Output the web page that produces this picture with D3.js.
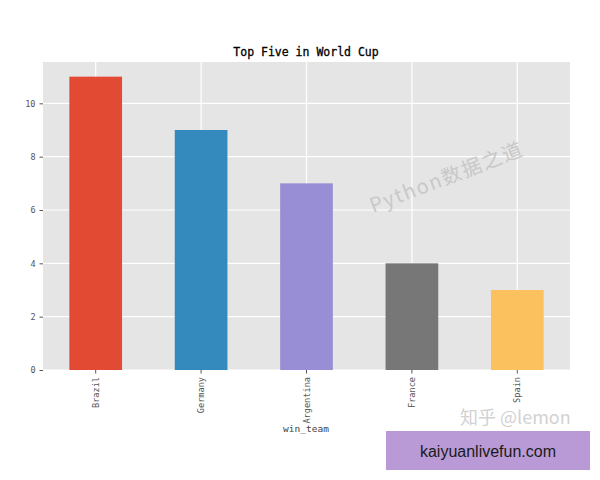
<!DOCTYPE html>
<html>
<head>
<meta charset="utf-8">
<script src="https://cdn.jsdelivr.net/npm/d3@7"></script>
<style>
  html, body { margin: 0; padding: 0; background: #fff; }
  svg { display: block; }
</style>
</head>
<body>
<svg id="chart" width="600" height="480"></svg>
<script>
const categories = ["Brazil", "Germany", "Argentina", "France", "Spain"];
const values = [11, 9, 7, 4, 3];
const colors = ["#E24A33", "#348ABD", "#988ED5", "#777777", "#FBC15E"];
const yTicks = [0, 2, 4, 6, 8, 10];
const title = "Top Five in World Cup";
const xLabel = "win_team";

(function () {
const svg = d3.select("#chart");
const pLeft = 43, pRight = 570, pTop = 62, pBottom = 370;
const mono = "'DejaVu Sans Mono', 'Liberation Mono', monospace";

const x = d3.scaleBand().domain(categories).range([pLeft, pRight]).paddingInner(0.5).paddingOuter(0.25);
const y = d3.scaleLinear().domain([0, 11.55]).range([pBottom, pTop]);

// background
svg.append("rect").attr("x", pLeft).attr("y", pTop).attr("width", pRight - pLeft).attr("height", pBottom - pTop).attr("fill", "#E5E5E5");

// grid
svg.append("g").selectAll("line").data(yTicks).join("line")
  .attr("x1", pLeft).attr("x2", pRight)
  .attr("y1", d => y(d)).attr("y2", d => y(d))
  .attr("stroke", "#fff").attr("stroke-width", 1.2);
svg.append("g").selectAll("line").data(categories).join("line")
  .attr("x1", d => x(d) + x.bandwidth() / 2).attr("x2", d => x(d) + x.bandwidth() / 2)
  .attr("y1", pTop).attr("y2", pBottom)
  .attr("stroke", "#fff").attr("stroke-width", 1.2);

// bars
svg.append("g").selectAll("rect").data(categories).join("rect")
  .attr("x", d => x(d)).attr("width", x.bandwidth())
  .attr("y", (d, i) => y(values[i])).attr("height", (d, i) => y(0) - y(values[i]))
  .attr("fill", (d, i) => colors[i]);

// watermark in plot
svg.append("text")
  .attr("transform", "translate(373,213) rotate(-21)")
  .attr("font-family", "'Noto Sans CJK SC', sans-serif")
  .attr("font-size", 20).attr("letter-spacing", 1.6)
  .attr("fill", "#c8c8c8")
  .text("Python数据之道");

// y axis
const yAxis = d3.axisLeft(y).tickValues(yTicks).tickSize(3.5).tickPadding(4).tickFormat(d3.format("d"));
const gy = svg.append("g").attr("transform", `translate(${pLeft},0)`).call(yAxis);
gy.select(".domain").remove();
gy.selectAll(".tick line").attr("stroke", "#555");
gy.selectAll(".tick text").attr("fill", "#555").attr("font-family", mono).attr("font-size", 8.5);

// x axis
const xAxis = d3.axisBottom(x).tickSize(3.5).tickPadding(3);
const gx = svg.append("g").attr("transform", `translate(0,${pBottom})`).call(xAxis);
gx.select(".domain").remove();
gx.selectAll(".tick line").attr("stroke", "#555");
gx.selectAll(".tick text")
  .attr("fill", "#555").attr("font-family", mono).attr("font-size", 8.6)
  .attr("text-anchor", "end")
  .attr("transform", "rotate(-90)")
  .attr("x", -7).attr("y", 0).attr("dy", "0.35em");

// x label
svg.append("text").attr("x", 306).attr("y", 432).attr("text-anchor", "middle")
  .attr("font-family", mono).attr("font-size", 9.5).attr("fill", "#444").text(xLabel);

// title
svg.append("text").attr("x", 306).attr("y", 56).attr("text-anchor", "middle")
  .attr("font-family", mono).attr("font-size", 11.5).attr("fill", "#000")
  .attr("stroke", "#000").attr("stroke-width", 0.3).text(title);

// zhihu watermark
svg.append("text").attr("x", 460).attr("y", 424)
  .attr("font-family", "'Noto Sans CJK SC', sans-serif").attr("font-size", 18)
  .attr("fill", "#d2d2d2").text("知乎 @lemon");

// purple box
svg.append("rect").attr("x", 386).attr("y", 431).attr("width", 204).attr("height", 39).attr("fill", "#B99AD6");
svg.append("text").attr("x", 488).attr("y", 451).attr("dy", "0.35em").attr("text-anchor", "middle")
  .attr("font-family", "'Liberation Sans', Arial, sans-serif").attr("font-size", 16).attr("fill", "#1a1a1a")
  .text("kaiyuanlivefun.com");
})();
</script>
</body>
</html>
